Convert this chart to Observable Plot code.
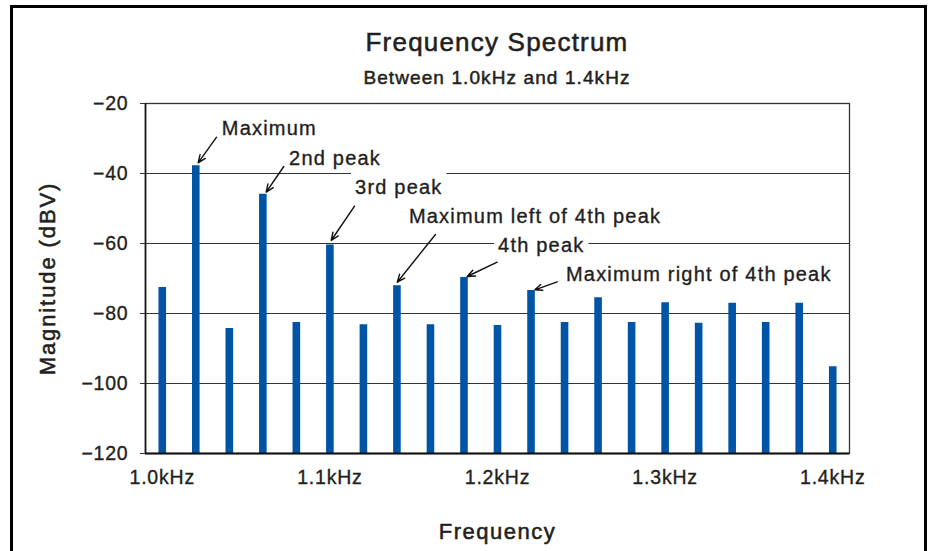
<!DOCTYPE html>
<html>
<head>
<meta charset="utf-8">
<script src="https://cdn.jsdelivr.net/npm/d3@7"></script>
<script src="https://cdn.jsdelivr.net/npm/@observablehq/plot@0.6"></script>
<style>
  html, body { margin: 0; padding: 0; background: #fff; overflow: hidden; }
  body { font-family: "Liberation Sans", Arial, Helvetica, sans-serif; color: #231f20; }
  #wrap { position: relative; width: 929px; height: 551px; overflow: hidden; }
  #border { position: absolute; left: 10px; top: 5px; width: 917px; height: 620px; border: 3px solid #000; box-sizing: border-box; pointer-events: none; }
  #header { position: relative; height: 92px; }
  #title { position: absolute; left: 145px; width: 704px; top: 29px; text-align: center; font-size: 26px; line-height: 26px; letter-spacing: 1.2px; -webkit-text-stroke: 0.55px #231f20; white-space: nowrap; }
  #subtitle { position: absolute; left: 145px; width: 704px; top: 67.5px; text-align: center; font-size: 19px; line-height: 19px; letter-spacing: 1.1px; -webkit-text-stroke: 0.5px #231f20; white-space: nowrap; }
  svg text { stroke: #231f20; stroke-width: 0.35px; }
  g[aria-label="y-axis tick label"] text, g[aria-label="x-axis tick label"] text { letter-spacing: 0.8px; }
  g[aria-label="y-axis label"] text { letter-spacing: 1.9px; stroke-width: 0.55px; }
  g[aria-label="x-axis label"] text { letter-spacing: 1.5px; stroke-width: 0.55px; }
</style>
</head>
<body>
<div id="wrap">
  <div id="header">
    <div id="title">Frequency Spectrum</div>
    <div id="subtitle">Between 1.0kHz and 1.4kHz</div>
  </div>
  <div id="chart"></div>
  <div id="border"></div>
</div>
<script>
// ---- Data ----
const freqs = [1.00, 1.02, 1.04, 1.06, 1.08, 1.10, 1.12, 1.14, 1.16, 1.18, 1.20,
               1.22, 1.24, 1.26, 1.28, 1.30, 1.32, 1.34, 1.36, 1.38, 1.40];
const mags  = [-72.6, -37.8, -84.3, -45.9, -82.6, -60.4, -83.2, -72.1, -83.2, -69.7, -83.4,
               -73.4, -82.6, -75.5, -82.6, -76.9, -82.8, -77.1, -82.6, -77.1, -95.2];
const yTicks = [-120, -100, -80, -60, -40, -20];
const yTickLabels = ["\u2212120", "\u2212100", "\u221280", "\u221260", "\u221240", "\u221220"];
const xTicks = [1.0, 1.1, 1.2, 1.3, 1.4];
const xTickLabels = ["1.0kHz", "1.1kHz", "1.2kHz", "1.3kHz", "1.4kHz"];

// annotations: label, label position, arrow tail and head (data units)
const annLabels = ["Maximum", "2nd peak", "3rd peak", "Maximum left of 4th peak", "4th peak", "Maximum right of 4th peak"];
const annTextX  = [1.0639, 1.1031, 1.1411, 1.2224, 1.2261, 1.3201];
const annTextY  = [-27.03, -35.6, -43.97, -52.37, -60.66, -68.94];
const annTailX  = [1.0324, 1.0725, 1.1147, 1.1630, 1.1998, 1.2356];
const annTailY  = [-29.63, -38.0, -49.34, -57.43, -65.34, -70.94];
const annHeadX  = [1.0214, 1.0620, 1.1008, 1.1402, 1.1819, 1.2223];
const annHeadY  = [-36.94, -45.34, -59.14, -71.06, -69.43, -73.23];

const rows = freqs.map((f, i) => ({f, m: mags[i]}));
const ann = annLabels.map((t, i) => ({
  t, x: annTextX[i], y: annTextY[i],
  x1: annTailX[i], y1: annTailY[i], x2: annHeadX[i], y2: annHeadY[i]
}));

const ink = "#231f20";
const annInk = "#221e1f";   // unique so the label group can be found after render
const arrowInk = "#101010";
const svg = Plot.plot({
  width: 929,
  height: 459,
  marginLeft: 145,
  marginRight: 80,
  marginTop: 11,
  marginBottom: 98,
  x: {domain: [0.99, 1.41]},
  y: {domain: [-120, -20]},
  style: {fontFamily: '"Liberation Sans", Arial, Helvetica, sans-serif', color: ink, background: "transparent", overflow: "visible"},
  marks: [
    Plot.gridY(yTicks, {stroke: "#333", strokeOpacity: 1, strokeWidth: 1.2}),
    Plot.ruleX(rows, {x: "f", y1: -120, y2: "m", stroke: "#0054a6", strokeWidth: 7.6}),
    Plot.frame({stroke: "#333", strokeWidth: 1.3}),
    Plot.ruleY([-120], {stroke: "#111", strokeWidth: 2.2}),
    Plot.ruleX([0.99], {stroke: "#111", strokeWidth: 1.6}),
    Plot.axisY(yTicks, {
      tickSize: 5, tickPadding: 12, stroke: "#333",
      tickFormat: d => yTickLabels[yTicks.indexOf(d)],
      fontSize: 19.5,
      label: "Magnitude (dBV)", labelAnchor: "center", labelOffset: 106, labelArrow: false
    }),
    Plot.axisX(xTicks, {
      tickSize: 0, tickPadding: 17,
      tickFormat: d => xTickLabels[xTicks.indexOf(d)],
      fontSize: 19.5,
      label: "Frequency", labelAnchor: "center", labelOffset: 85, labelArrow: false
    }),
    Plot.arrow(ann, {x1: "x1", y1: "y1", x2: "x2", y2: "y2", stroke: arrowInk, strokeWidth: 1.4, headLength: 9, headAngle: 45}),
    Plot.text(ann, {x: "x", y: "y", text: "t", fontSize: 20, fill: annInk, textAnchor: "middle"})
  ]
});
document.getElementById("chart").appendChild(svg);

// axis titles larger
svg.querySelectorAll('g[aria-label="y-axis label"] text, g[aria-label="x-axis label"] text').forEach(t => {
  t.setAttribute("font-size", "22");
});

// annotation labels: loose tracking and white boxes that interrupt the grid lines
const annG = [...svg.querySelectorAll("g")].find(g => g.getAttribute("fill") === annInk);
const arrowG = [...svg.querySelectorAll("g")].find(g => g.getAttribute("stroke") === arrowInk);
if (annG) {
  const ns = "http://www.w3.org/2000/svg";
  const bg = document.createElementNS(ns, "g");
  const gt = annG.getAttribute("transform");
  if (gt) bg.setAttribute("transform", gt);
  annG.querySelectorAll("text").forEach(t => {
    t.style.letterSpacing = "1.2px";
    const b = t.getBBox();
    const r = document.createElementNS(ns, "rect");
    const tt = t.getAttribute("transform");
    if (tt) r.setAttribute("transform", tt);
    r.setAttribute("x", b.x - 4);
    r.setAttribute("y", b.y - 3);
    r.setAttribute("width", b.width + 8);
    r.setAttribute("height", b.height + 5);
    r.setAttribute("fill", "#fff");
    bg.appendChild(r);
  });
  const before = arrowG || annG;
  before.parentNode.insertBefore(bg, before);
}
</script>
</body>
</html>
